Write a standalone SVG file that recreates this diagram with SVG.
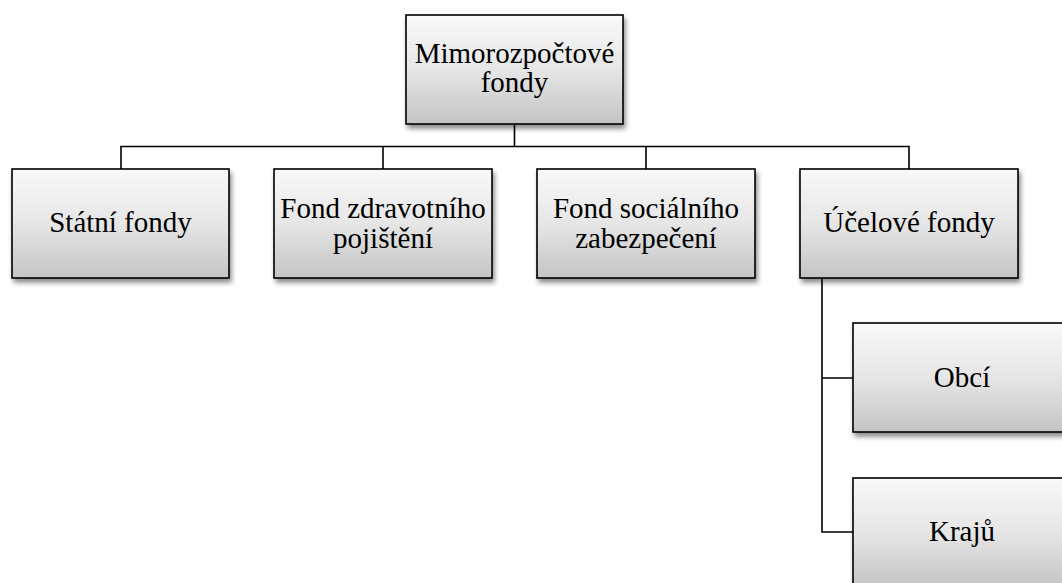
<svg xmlns="http://www.w3.org/2000/svg" width="1062" height="583" viewBox="0 0 1062 583">
<style>
.box{fill:url(#g);stroke:#000;stroke-width:1.6;filter:url(#sh)}
.t{font-family:"Liberation Serif","Times New Roman",serif;font-size:29px;fill:#000;text-anchor:middle}
.c{fill:none;stroke:#000;stroke-width:1.6}
</style>
<defs>
<linearGradient id="g" x1="0" y1="0" x2="0" y2="1">
<stop offset="0" stop-color="#f9f9f9"/>
<stop offset="0.5" stop-color="#e6e6e6"/>
<stop offset="1" stop-color="#c4c4c4"/>
</linearGradient>
<filter id="sh" x="-10%" y="-10%" width="125%" height="130%">
<feGaussianBlur in="SourceAlpha" stdDeviation="2.5"/>
<feOffset dx="2" dy="4" result="b"/>
<feComponentTransfer><feFuncA type="linear" slope="0.45"/></feComponentTransfer>
<feMerge><feMergeNode/><feMergeNode in="SourceGraphic"/></feMerge>
</filter>
</defs>
<rect width="1062" height="583" fill="#fff"/>
<g id="connectors">
<path class="c" d="M514.5 124V146.5M121 169V146.5H909V169M383 146.5V169M646 146.5V169"/>
<path class="c" d="M822 278V532H853M822 378H853"/>
</g>
<g id="n-root"><rect class="box" x="406" y="15" width="217" height="109"/><text class="t" x="514.5" y="63">Mimorozpočtové</text><text class="t" x="514.5" y="92">fondy</text></g>
<g id="n-statni"><rect class="box" x="12" y="169" width="217" height="109"/><text class="t" x="120.5" y="232">Státní fondy</text></g>
<g id="n-zdrav"><rect class="box" x="274" y="169" width="218" height="109"/><text class="t" x="383" y="218">Fond zdravotního</text><text class="t" x="383" y="248">pojištění</text></g>
<g id="n-soc"><rect class="box" x="537" y="169" width="218" height="109"/><text class="t" x="646" y="218">Fond sociálního</text><text class="t" x="646" y="248">zabezpečení</text></g>
<g id="n-ucel"><rect class="box" x="800" y="169" width="218" height="109"/><text class="t" x="909" y="232">Účelové fondy</text></g>
<g id="n-obci"><rect class="box" x="853" y="323" width="218" height="109"/><text class="t" x="962" y="387">Obcí</text></g>
<g id="n-kraju"><rect class="box" x="853" y="478" width="218" height="109"/><text class="t" x="962" y="541">Krajů</text></g>
</svg>
